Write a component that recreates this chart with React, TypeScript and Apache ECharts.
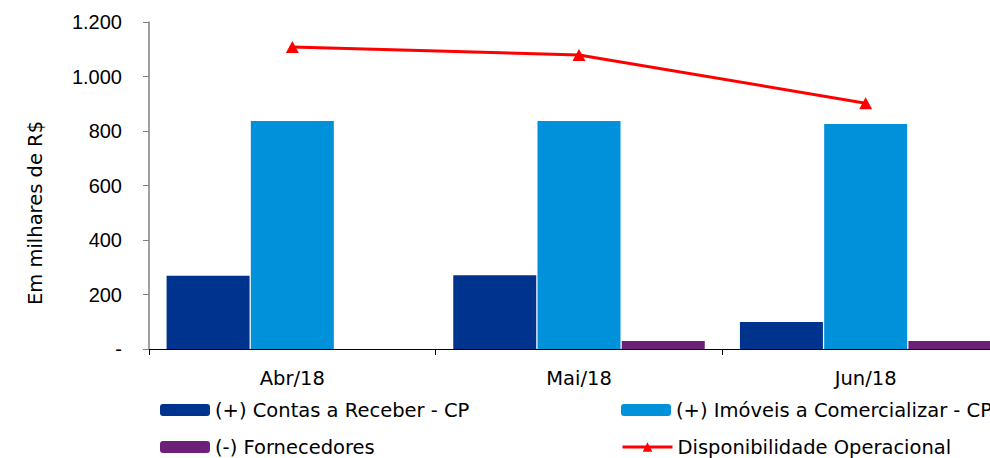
import React, { useEffect, useRef } from "react";
import * as echarts from "echarts";

const categories = ["Abr/18", "Mai/18", "Jun/18"];
const contasReceber = [269, 271, 99];
const imoveis = [837, 837, 826];
const fornecedores = [0, 29, 29];
const disponibilidade = [1108, 1079, 902];
const seriesNames = [
  "(+) Contas a Receber - CP",
  "(+) Imóveis a Comercializar - CP",
  "(-) Fornecedores",
  "Disponibilidade Operacional",
];
const yTicks = { min: 0, max: 1200, interval: 200 };

const FONT = "'DejaVu Sans', sans-serif";
const NUMFONT = "'Liberation Sans', Arial, sans-serif";

export default function App() {
  const ref = useRef<HTMLDivElement>(null);
  useEffect(() => {
    const chart = echarts.init(ref.current!, null, { renderer: "svg" });
    const legendText = { fontSize: 19.5, color: "#000", fontFamily: FONT };
    const mkLegend = (name: string, left: number, top: number, extra: any = {}) => ({
      data: [name],
      left,
      top,
      padding: 0,
      itemWidth: 50,
      itemHeight: 12,
      selectedMode: false,
      textStyle: legendText,
      ...extra,
    });
    chart.setOption({
      animation: false,
      textStyle: { fontFamily: FONT },
      grid: { left: 149, top: 22, right: 1, bottom: 109, containLabel: false },
      legend: [
        mkLegend(seriesNames[0], 160, 400),
        mkLegend(seriesNames[1], 621, 400),
        mkLegend(seriesNames[2], 160, 437),
        mkLegend(seriesNames[3], 621, 437, { lineStyle: { width: 3, color: "#FF0000" } }),
      ],
      graphic: [
        {
          type: "text",
          x: 35,
          y: 213,
          rotation: Math.PI / 2,
          style: {
            text: "Em milhares de R$",
            fontSize: 19.5,
            fontFamily: FONT,
            fill: "#000",
            align: "center",
            verticalAlign: "middle",
          },
        },
      ],
      xAxis: {
        type: "category",
        data: categories,
        axisLine: { lineStyle: { color: "#000", width: 1 } },
        axisTick: { show: true, length: 6, lineStyle: { color: "#000" } },
        axisLabel: { fontSize: 19.5, color: "#000", margin: 19, fontFamily: FONT },
        splitLine: { show: false },
      },
      yAxis: {
        type: "value",
        min: yTicks.min,
        max: yTicks.max,
        interval: yTicks.interval,
        axisLine: { show: true, lineStyle: { color: "#808080", width: 1.5 } },
        axisTick: { show: true, length: 6, lineStyle: { color: "#808080" } },
        splitLine: { show: false },
        axisLabel: {
          fontSize: 20,
          color: "#000",
          margin: 27,
          fontFamily: NUMFONT,
          formatter: (v: number) =>
            v === 0 ? "-" : v.toString().replace(/\B(?=(\d{3})+(?!\d))/g, "."),
        },
      },
      series: [
        {
          name: seriesNames[0],
          type: "bar",
          data: contasReceber,
          barWidth: 83,
          barGap: "1.5%",
          itemStyle: { color: "#00338D" },
        },
        {
          name: seriesNames[1],
          type: "bar",
          data: imoveis,
          barWidth: 83,
          barGap: "1.5%",
          itemStyle: { color: "#0091DA" },
        },
        {
          name: seriesNames[2],
          type: "bar",
          data: fornecedores,
          barWidth: 83,
          barGap: "1.5%",
          itemStyle: { color: "#6D2077" },
        },
        {
          name: seriesNames[3],
          type: "line",
          data: disponibilidade,
          symbol: "triangle",
          symbolSize: [13, 12],
          lineStyle: { color: "#FF0000", width: 3 },
          itemStyle: { color: "#FF0000" },
        },
      ],
    });
    return () => chart.dispose();
  }, []);
  return (
    <div
      style={{ position: "fixed", left: 0, top: 0, width: 990, height: 458, overflow: "hidden", background: "#fff" }}
    >
      <div ref={ref} style={{ width: 1010, height: 458 }} />
    </div>
  );
}
